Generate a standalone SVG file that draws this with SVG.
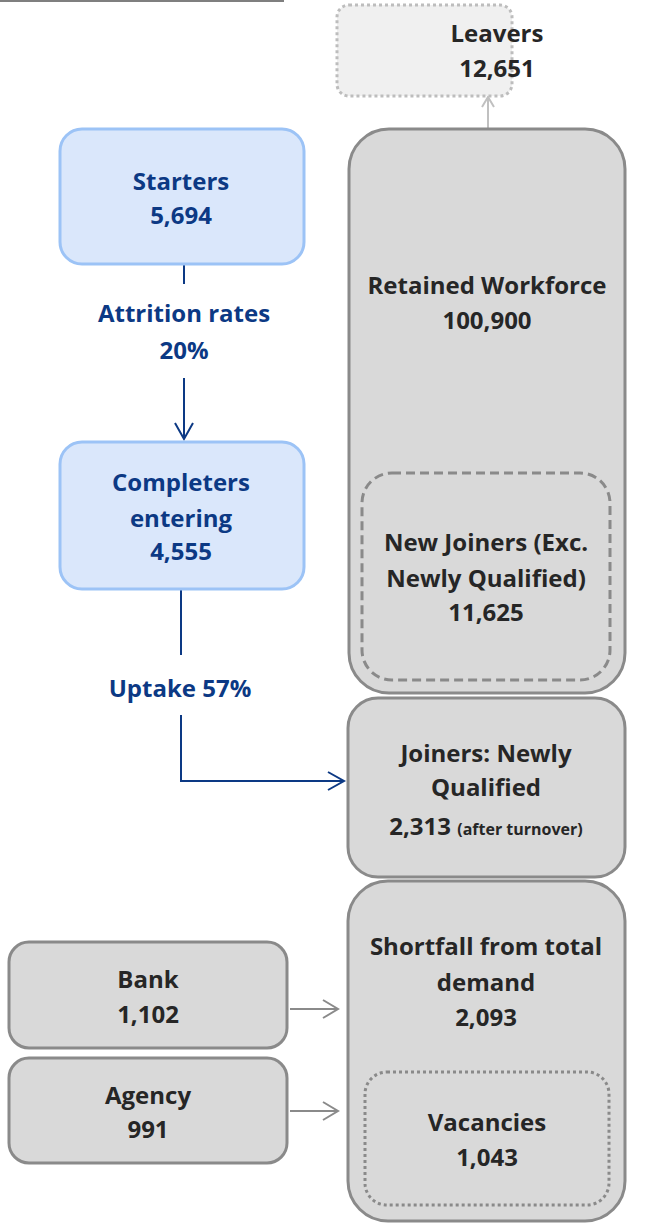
<svg xmlns="http://www.w3.org/2000/svg" width="664" height="1225" viewBox="0 0 664 1225">
<style>
.t{font-family:"Open Sans","Noto Sans","Liberation Sans",sans-serif;font-weight:bold;text-anchor:middle;}
.g{fill:#262626;font-size:24px;}
.b{fill:#0c3984;font-size:24px;}
.box{fill:#d9d9d9;stroke:#8a8a8a;stroke-width:3;}
.blue{fill:#dae7fb;stroke:#9cc3f6;stroke-width:3;}
</style>
<defs>
<marker id="ab" markerWidth="20" markerHeight="22" refX="17" refY="11" orient="auto" markerUnits="userSpaceOnUse"><path d="M1,2 L17,11 L1,20" fill="none" stroke="#0c3984" stroke-width="2"/></marker>
<marker id="ag" markerWidth="20" markerHeight="24" refX="16" refY="12" orient="auto" markerUnits="userSpaceOnUse"><path d="M1,3 L16,12 L1,21" fill="none" stroke="#8a8a8a" stroke-width="2"/></marker>
<marker id="al" markerWidth="14" markerHeight="16" refX="11" refY="8" orient="auto" markerUnits="userSpaceOnUse"><path d="M1,2 L11,8 L1,14" fill="none" stroke="#c0c0c0" stroke-width="2"/></marker>
</defs>
<line x1="0" y1="1" x2="284" y2="1" stroke="#555" stroke-width="1.5"/>
<g id="connectors" fill="none">
<line x1="488" y1="128" x2="488" y2="97" stroke="#c0c0c0" stroke-width="2" marker-end="url(#al)"/>
<line x1="184" y1="264" x2="184" y2="284" stroke="#0c3984" stroke-width="2"/>
<line x1="184" y1="378" x2="184" y2="439" stroke="#0c3984" stroke-width="2" marker-end="url(#ab)"/>
<polyline points="181,590 181,655" stroke="#0c3984" stroke-width="2"/>
<polyline points="181,715 181,781 344,781" stroke="#0c3984" stroke-width="2" marker-end="url(#ab)"/>
<line x1="290" y1="1009" x2="338" y2="1009" stroke="#8a8a8a" stroke-width="2" marker-end="url(#ag)"/>
<line x1="290" y1="1111" x2="338" y2="1111" stroke="#8a8a8a" stroke-width="2" marker-end="url(#ag)"/>
</g>
<g id="leavers">
<rect x="337" y="5" width="175" height="91" rx="12" fill="#f0f0f0" stroke="#bdbdbd" stroke-width="3" stroke-dasharray="3,3"/>
<text class="t g" x="497" y="42">Leavers</text>
<text class="t g" x="497" y="77">12,651</text>
</g>
<g id="starters">
<rect x="60" y="129" width="244" height="135" rx="22" class="blue"/>
<text class="t b" x="181" y="190">Starters</text>
<text class="t b" x="181" y="224">5,694</text>
</g>
<g id="attrition">
<text class="t b" x="184" y="322">Attrition rates</text>
<text class="t b" x="184" y="359">20%</text>
</g>
<g id="completers">
<rect x="60" y="442" width="244" height="147" rx="22" class="blue"/>
<text class="t b" x="181" y="491">Completers</text>
<text class="t b" x="181" y="527">entering</text>
<text class="t b" x="181" y="560">4,555</text>
</g>
<g id="uptake">
<text class="t b" x="180" y="697">Uptake 57%</text>
</g>
<g id="retained">
<rect x="349" y="129" width="276" height="564" rx="40" class="box"/>
<text class="t g" x="487" y="294">Retained Workforce</text>
<text class="t g" x="487" y="329">100,900</text>
</g>
<g id="newjoiners">
<rect x="362" y="473" width="248" height="207" rx="30" fill="none" stroke="#8a8a8a" stroke-width="3" stroke-dasharray="9,5"/>
<text class="t g" x="486" y="551">New Joiners (Exc.</text>
<text class="t g" x="486" y="587">Newly Qualified)</text>
<text class="t g" x="486" y="621">11,625</text>
</g>
<g id="nq">
<rect x="348" y="698" width="277" height="179" rx="30" class="box"/>
<text class="t g" x="486" y="762">Joiners: Newly</text>
<text class="t g" x="486" y="796">Qualified</text>
<text class="t g" x="486" y="835">2,313 <tspan font-size="16">(after turnover)</tspan></text>
</g>
<g id="shortfall">
<rect x="348" y="881" width="277" height="340" rx="40" class="box"/>
<text class="t g" x="486" y="955">Shortfall from total</text>
<text class="t g" x="486" y="991">demand</text>
<text class="t g" x="486" y="1026">2,093</text>
</g>
<g id="vacancies">
<rect x="365" y="1072" width="244" height="133" rx="22" fill="none" stroke="#8a8a8a" stroke-width="3" stroke-dasharray="3,3"/>
<text class="t g" x="487" y="1131">Vacancies</text>
<text class="t g" x="487" y="1166">1,043</text>
</g>
<g id="bank">
<rect x="9" y="942" width="278" height="106" rx="20" class="box"/>
<text class="t g" x="148" y="988">Bank</text>
<text class="t g" x="148" y="1023">1,102</text>
</g>
<g id="agency">
<rect x="9" y="1058" width="278" height="105" rx="20" class="box"/>
<text class="t g" x="148" y="1104">Agency</text>
<text class="t g" x="148" y="1138">991</text>
</g>
</svg>
